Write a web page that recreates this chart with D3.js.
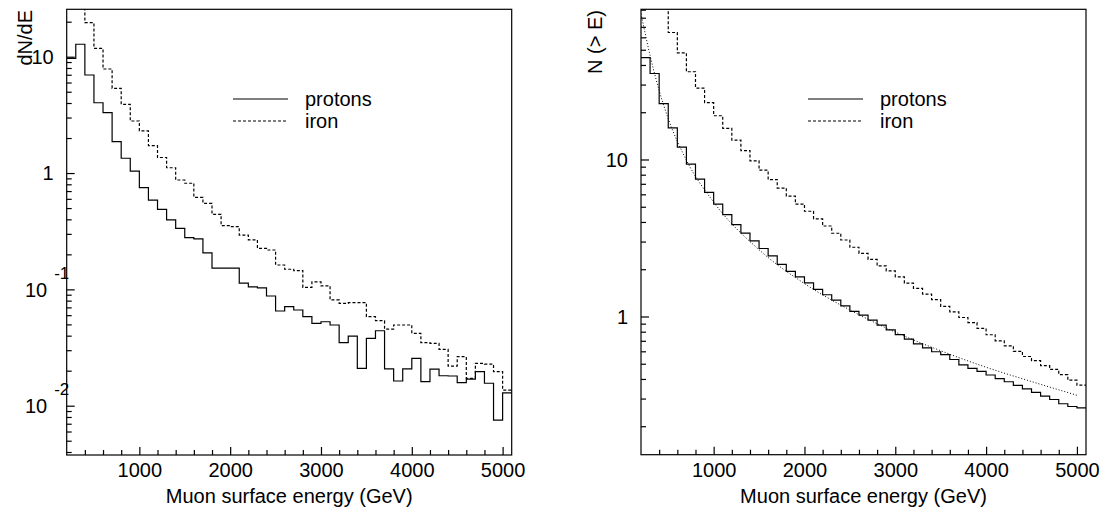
<!DOCTYPE html>
<html><head><meta charset="utf-8">
<script src="https://cdn.jsdelivr.net/npm/d3@7/dist/d3.min.js"></script>
<style>
body{margin:0;background:#fff;}
svg text{font-family:"Liberation Sans", Arial, Helvetica, sans-serif;fill:#000;}
</style></head><body>
<svg id="c" width="1106" height="515"></svg>
<script>
// ---------- data ----------
const binEdges = [200,300,400,500,600,700,800,900,1000,1100,1200,1300,1400,1500,1600,1700,1800,1900,2000,
  2100,2200,2300,2400,2500,2600,2700,2800,2900,3000,3100,3200,3300,3400,3500,3600,3700,3800,3900,4000,
  4100,4200,4300,4400,4500,4600,4700,4800,4900,5000,5100];

const protonDnDe = [9.69,12.8,6.96,4.02,3.30,1.86,1.34,1.04,0.748,0.586,0.488,0.395,0.335,0.278,0.272,0.206,
  0.152,0.152,0.152,0.113,0.105,0.103,0.0877,0.0652,0.0710,0.0665,0.0582,0.0511,0.0527,0.0494,0.0348,0.0397,
  0.0209,0.0379,0.0441,0.0207,0.0163,0.0207,0.0255,0.0161,0.0206,0.0181,0.0180,0.0158,0.0169,0.0196,0.0156,
  0.00753,0.0129];

const ironDnDe = [45,32,19.6,11.8,7.84,5.35,3.90,2.80,2.30,1.72,1.36,1.11,0.871,0.817,0.618,0.549,0.442,0.353,
  0.346,0.293,0.266,0.225,0.218,0.162,0.149,0.145,0.104,0.116,0.107,0.0811,0.0759,0.0768,0.0768,0.0582,0.0538,
  0.0456,0.0494,0.0494,0.0419,0.0348,0.0343,0.0305,0.0219,0.0264,0.0172,0.0231,0.0228,0.0196,0.0136];

const protonCum = [44.6,35.3,22.7,15.9,12.0,9.33,7.49,6.17,5.2,4.45,3.85,3.40,3.03,2.71,2.43,2.15,1.94,1.79,
  1.635,1.49,1.375,1.27,1.167,1.078,1.02,0.948,0.882,0.822,0.767,0.717,0.669,0.631,0.596,0.571,0.532,0.492,
  0.467,0.447,0.424,0.402,0.384,0.364,0.346,0.329,0.311,0.296,0.278,0.267,0.262];

const ironCum = [205,140,94,64.4,47.8,36.2,28.5,23.0,19.0,15.8,13.3,11.4,9.8,8.55,7.45,6.58,5.85,5.2,4.68,4.19,
  3.77,3.39,3.07,2.76,2.52,2.31,2.10,1.95,1.79,1.63,1.51,1.39,1.28,1.16,1.07,0.985,0.915,0.84,0.765,0.70,0.65,
  0.60,0.556,0.523,0.486,0.46,0.426,0.393,0.365];

const fitEnergy = [200,300,400,500,700,1000,1500,2000,2500,3000,3500,4000,4500,5000];
const fitProtonCum = [85,46,27.5,18.2,9.9,5.35,2.66,1.62,1.1,0.795,0.605,0.475,0.385,0.315];

const xMajorTicks = [1000,2000,3000,4000,5000];
const xMinorTicks = [400,600,800,1200,1400,1600,1800,2200,2400,2600,2800,3200,3400,3600,3800,4200,4400,4600,4800];
const leftYMajor = [0.01,0.1,1,10];
const leftYLabels = [["10","-2"],["10","-1"],["1",""],["10",""]];
const rightYMajor = [1,10];
const rightYLabels = [["1",""],["10",""]];
const legendNames = ["protons","iron"];
const xTitle = "Muon surface energy (GeV)";

// ---------- drawing ----------
const svg = d3.select("#c");
svg.append("rect").attr("width",1106).attr("height",515).attr("fill","#fff");

function drawPanel(cfg, idx){
  const {x0,x1,y0,y1} = cfg;
  const x = d3.scaleLinear().domain([200,5100]).range([x0,x1]);
  const y = d3.scaleLog().domain(cfg.yDomain).range([y1,y0]);
  const g = svg.append("g");
  const clipId = "clip"+idx;
  g.append("clipPath").attr("id",clipId).append("rect")
    .attr("x",x0).attr("y",y0).attr("width",x1-x0).attr("height",y1-y0);

  const plot = g.append("g").attr("clip-path",`url(#${clipId})`);
  const step = d3.line().curve(d3.curveStepAfter).x(d=>x(d[0])).y(d=>y(d[1]));
  function hist(vals){
    const pts = vals.map((v,i)=>[binEdges[i],v]);
    pts.push([binEdges[binEdges.length-1], vals[vals.length-1]]);
    return pts;
  }
  cfg.series.forEach(s=>{
    plot.append("path").attr("d",step(hist(s.values)))
      .attr("fill","none").attr("stroke","#000").attr("stroke-width",1.2)
      .attr("stroke-dasharray",s.dash||null);
  });
  if(cfg.fit){
    const ln = d3.line().curve(d3.curveMonotoneX).x(d=>x(d[0])).y(d=>y(d[1]));
    plot.append("path").attr("d",ln(cfg.fit.e.map((e,i)=>[e,cfg.fit.n[i]])))
      .attr("fill","none").attr("stroke","#000").attr("stroke-width",1)
      .attr("stroke-dasharray","1,2");
  }

  // frame
  g.append("rect").attr("x",x0).attr("y",y0).attr("width",x1-x0).attr("height",y1-y0)
    .attr("fill","none").attr("stroke","#000").attr("stroke-width",1.2);

  // x axis
  const gxm = g.append("g").attr("transform",`translate(0,${y1})`)
    .call(d3.axisBottom(x).tickValues(xMinorTicks).tickSize(-5).tickSizeOuter(0).tickFormat(""));
  gxm.select(".domain").remove();
  const gx = g.append("g").attr("transform",`translate(0,${y1})`)
    .call(d3.axisBottom(x).tickValues(xMajorTicks).tickSize(-8).tickSizeOuter(0).tickPadding(8).tickFormat(d3.format("d")));
  gx.select(".domain").remove();
  gx.selectAll("text").attr("font-size",20).attr("font-family",null);

  // y axis ticks
  const [dmin,dmax] = cfg.yDomain;
  const minor = [];
  for(let e=-4;e<=2;e++){ for(let k=2;k<=9;k++){ const v=k*Math.pow(10,e); if(v>dmin && v<dmax) minor.push(v);} }
  const gym = g.append("g").attr("transform",`translate(${x0},0)`)
    .call(d3.axisLeft(y).tickValues(minor).tickSize(-5).tickSizeOuter(0).tickFormat(""));
  gym.select(".domain").remove();
  const gy = g.append("g").attr("transform",`translate(${x0},0)`)
    .call(d3.axisLeft(y).tickValues(cfg.yMajor).tickSize(-8).tickSizeOuter(0).tickFormat(""));
  gy.select(".domain").remove();
  g.selectAll(".tick line").attr("stroke","#000").attr("stroke-width",1.2);

  cfg.yMajor.forEach((v,i)=>{
    const [base,ex] = cfg.yLabels[i];
    const yy = y(v);
    if(ex){
      g.append("text").attr("x",x0-19.5).attr("y",yy).attr("dy","0.36em")
        .attr("text-anchor","end").attr("font-size",20).text(base);
      g.append("text").attr("x",x0-12.5).attr("y",yy-10.5)
        .attr("font-size",17).text(ex);
    } else {
      g.append("text").attr("x",x0-13).attr("y",yy).attr("dy","0.36em")
        .attr("text-anchor","end").attr("font-size",20).text(base);
    }
  });

  // titles
  g.append("text").attr("x",(x0+x1)/2).attr("y",503).attr("text-anchor","middle")
    .attr("font-size",20).text(xTitle);
  g.append("text").attr("transform",`translate(${cfg.yTitleX},10) rotate(-90)`)
    .attr("text-anchor","end").attr("font-size",20).text(cfg.yTitle);

  // legend
  const lx = cfg.legendX;
  const rows = [{y:99,dash:null},{y:121,dash:"3,2"}];
  rows.forEach((r,i)=>{
    g.append("line").attr("x1",lx).attr("x2",lx+55).attr("y1",r.y).attr("y2",r.y)
      .attr("stroke","#000").attr("stroke-width",1.2).attr("stroke-dasharray",r.dash);
    g.append("text").attr("x",lx+72).attr("y",r.y).attr("dy","0.35em")
      .attr("font-size",20).text(legendNames[i]);
  });
}

drawPanel({x0:66.7,x1:511.7,y0:9.3,y1:455,yDomain:[0.003769,25.56],
  yMajor:leftYMajor,yLabels:leftYLabels,yTitle:"dN/dE",yTitleX:31.5,legendX:233,
  series:[{values:protonDnDe},{values:ironDnDe,dash:"3,2"}]},0);

drawPanel({x0:641,x1:1086,y0:9.3,y1:454.7,yDomain:[0.1317,90.5],
  yMajor:rightYMajor,yLabels:rightYLabels,yTitle:"N (> E)",yTitleX:601.5,legendX:808,
  series:[{values:protonCum},{values:ironCum,dash:"3,2"}],
  fit:{e:fitEnergy,n:fitProtonCum}},1);
</script>
</body></html>
